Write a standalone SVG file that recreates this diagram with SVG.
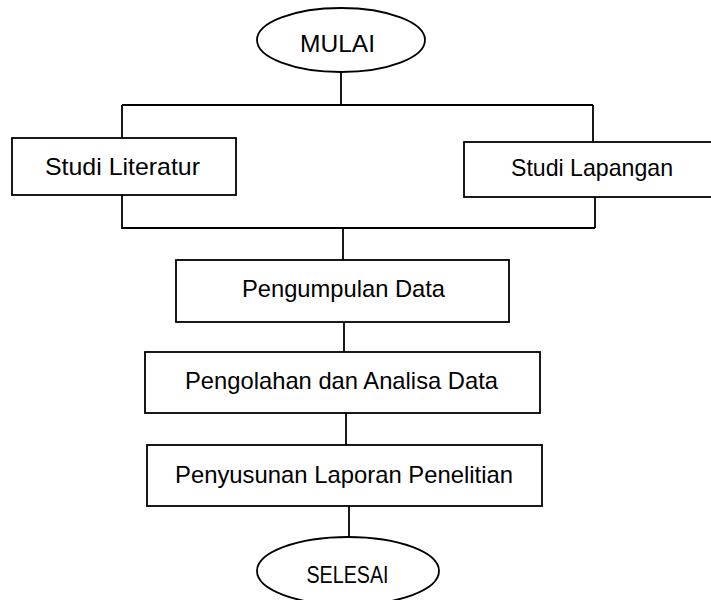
<svg xmlns="http://www.w3.org/2000/svg" width="711" height="600" viewBox="0 0 711 600">
<style>
.shape{fill:#fff;stroke:#000;stroke-width:1.8}
.conn{fill:none;stroke:#000;stroke-width:1.8}
text{font-family:"Liberation Sans",Arial,sans-serif;font-size:24px;fill:#000;text-anchor:middle}
</style>
<rect width="711" height="600" fill="#fff"/>
<g id="connectors">
<path class="conn" d="M341,72 V105 M122,105 H593 M122,105 V138 M593,105 V142"/>
<path class="conn" d="M122,195 V228 H595 M595,197 V228"/>
<path class="conn" d="M343,228 V260"/>
<path class="conn" d="M344,322 V352"/>
<path class="conn" d="M346,413 V445"/>
<path class="conn" d="M349,506 V537"/>
</g>
<g id="mulai">
<ellipse class="shape" cx="341" cy="40" rx="84" ry="32"/>
<text x="337.5" y="52" textLength="75" lengthAdjust="spacingAndGlyphs">MULAI</text>
</g>
<g id="studi-literatur">
<rect class="shape" x="12" y="138" width="224" height="57"/>
<text x="122.5" y="175" textLength="155" lengthAdjust="spacingAndGlyphs">Studi Literatur</text>
</g>
<g id="studi-lapangan">
<rect class="shape" x="464" y="142" width="256" height="55"/>
<text x="592" y="176" textLength="162" lengthAdjust="spacingAndGlyphs">Studi Lapangan</text>
</g>
<g id="pengumpulan-data">
<rect class="shape" x="176" y="260" width="333" height="62"/>
<text x="343.5" y="297" textLength="203" lengthAdjust="spacingAndGlyphs">Pengumpulan Data</text>
</g>
<g id="pengolahan">
<rect class="shape" x="145" y="352" width="395" height="61"/>
<text x="341.5" y="389" textLength="313" lengthAdjust="spacingAndGlyphs">Pengolahan dan Analisa Data</text>
</g>
<g id="penyusunan">
<rect class="shape" x="147" y="445" width="395" height="61"/>
<text x="344" y="483" textLength="338" lengthAdjust="spacingAndGlyphs">Penyusunan Laporan Penelitian</text>
</g>
<g id="selesai">
<ellipse class="shape" cx="348" cy="571" rx="91" ry="34"/>
<text x="347.5" y="583" textLength="82" lengthAdjust="spacingAndGlyphs">SELESAI</text>
</g>
</svg>
